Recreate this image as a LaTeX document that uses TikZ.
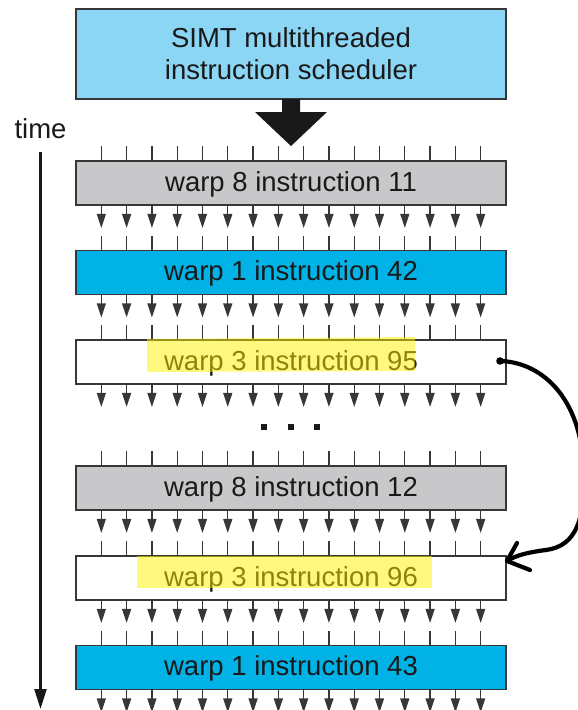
\documentclass[tikz,border=0pt]{standalone}
\usepackage{fontspec}
\setmainfont{Liberation Sans}
\usetikzlibrary{arrows.meta}
\definecolor{schedblue}{RGB}{140,214,245}
\definecolor{warpblue}{RGB}{0,178,230}
\definecolor{warpgray}{RGB}{200,200,202}
\definecolor{edgegray}{RGB}{55,55,55}
\definecolor{inkblack}{RGB}{25,25,25}
\tikzset{
  warpbox/.style={draw=edgegray,line width=1.8pt,minimum width=430pt,minimum height=44pt,
    inner sep=0pt,text=inkblack,font=\fontsize{27.5}{32}\selectfont,text height=19.3pt,text depth=3pt},
  tickline/.style={draw=edgegray,line width=1.3pt},
  lanearrow/.style={draw=edgegray,line width=1.3pt,-{Triangle[width=9pt,length=14pt]}},
  highlight/.style={fill=yellow,opacity=0.5},
  handink/.style={draw=black,line width=4.2pt,line cap=round,line join=round},
}
\begin{document}
\begin{tikzpicture}[x=1pt,y=-1pt]
\useasboundingbox (0,0) rectangle (578,710);
% scheduler
\node[draw=edgegray,line width=1.8pt,fill=schedblue,minimum width=430pt,minimum height=90pt,
  inner sep=0pt,text=inkblack,align=center,font=\fontsize{27.5}{32}\selectfont]
  (sched) at (291,54) {SIMT multithreaded\\instruction scheduler};
% big arrow
\fill[inkblack] (282,99) -- (300,99) -- (300,112) -- (327,112) -- (291,146) -- (255,112) -- (282,112) -- cycle;
% time
\node[font=\fontsize{27.5}{32}\selectfont,text=inkblack,anchor=base] (timelabel) at (40.5,138) {time};
\coordinate (tstart) at (40.5,152);
\coordinate (tend) at (40.5,709);
\draw[draw=inkblack,line width=2.4pt,-{Triangle[width=12pt,length=20pt]}] (tstart) -- (tend);
% warp boxes
\node[warpbox,fill=warpgray]  (b1) at (291,183) {warp 8 instruction 11};
\node[warpbox,fill=warpblue]  (b2) at (291,272.5) {warp 1 instruction 42};
\node[warpbox,fill=white]     (b3) at (291,362) {warp 3 instruction 95};
\node[warpbox,fill=warpgray]  (b4) at (291,488) {warp 8 instruction 12};
\node[warpbox,fill=white]     (b5) at (291,578) {warp 3 instruction 96};
\node[warpbox,fill=warpblue]  (b6) at (291,667.5) {warp 1 instruction 43};
% lanes
\foreach \b in {b1,b2,b3,b4,b5,b6}{
  \foreach \k in {1,...,16}{
    \draw[tickline] ([xshift={(\k-8.5)*25.29pt}]\b.north) -- ++(0,-14);
    \draw[lanearrow] ([xshift={(\k-8.5)*25.29pt}]\b.south) -- ++(0,22);
  }
}
% ellipsis
\foreach \x in {264,291,317}{
  \fill[inkblack] (\x-3,424) rectangle (\x+3,430);
}
% highlights
\fill[highlight] (147,339) -- (415,337) -- (415,371) -- (147,372) -- cycle;
\fill[highlight] (137,556) rectangle (432,588);
% hand-drawn arrow
\coordinate (hstart) at (500,361);
\coordinate (htip) at (507,561);
\fill[black] (hstart) circle (3.8pt);
\draw[handink] (hstart) .. controls (540,362) and (578,395) .. (583,460)
  .. controls (587,520) and (576,546) .. (546,550)
  .. controls (530,552) and (516,555) .. (htip);
\draw[handink] (517,543) -- (htip) -- (530,570);
\end{tikzpicture}
\end{document}
